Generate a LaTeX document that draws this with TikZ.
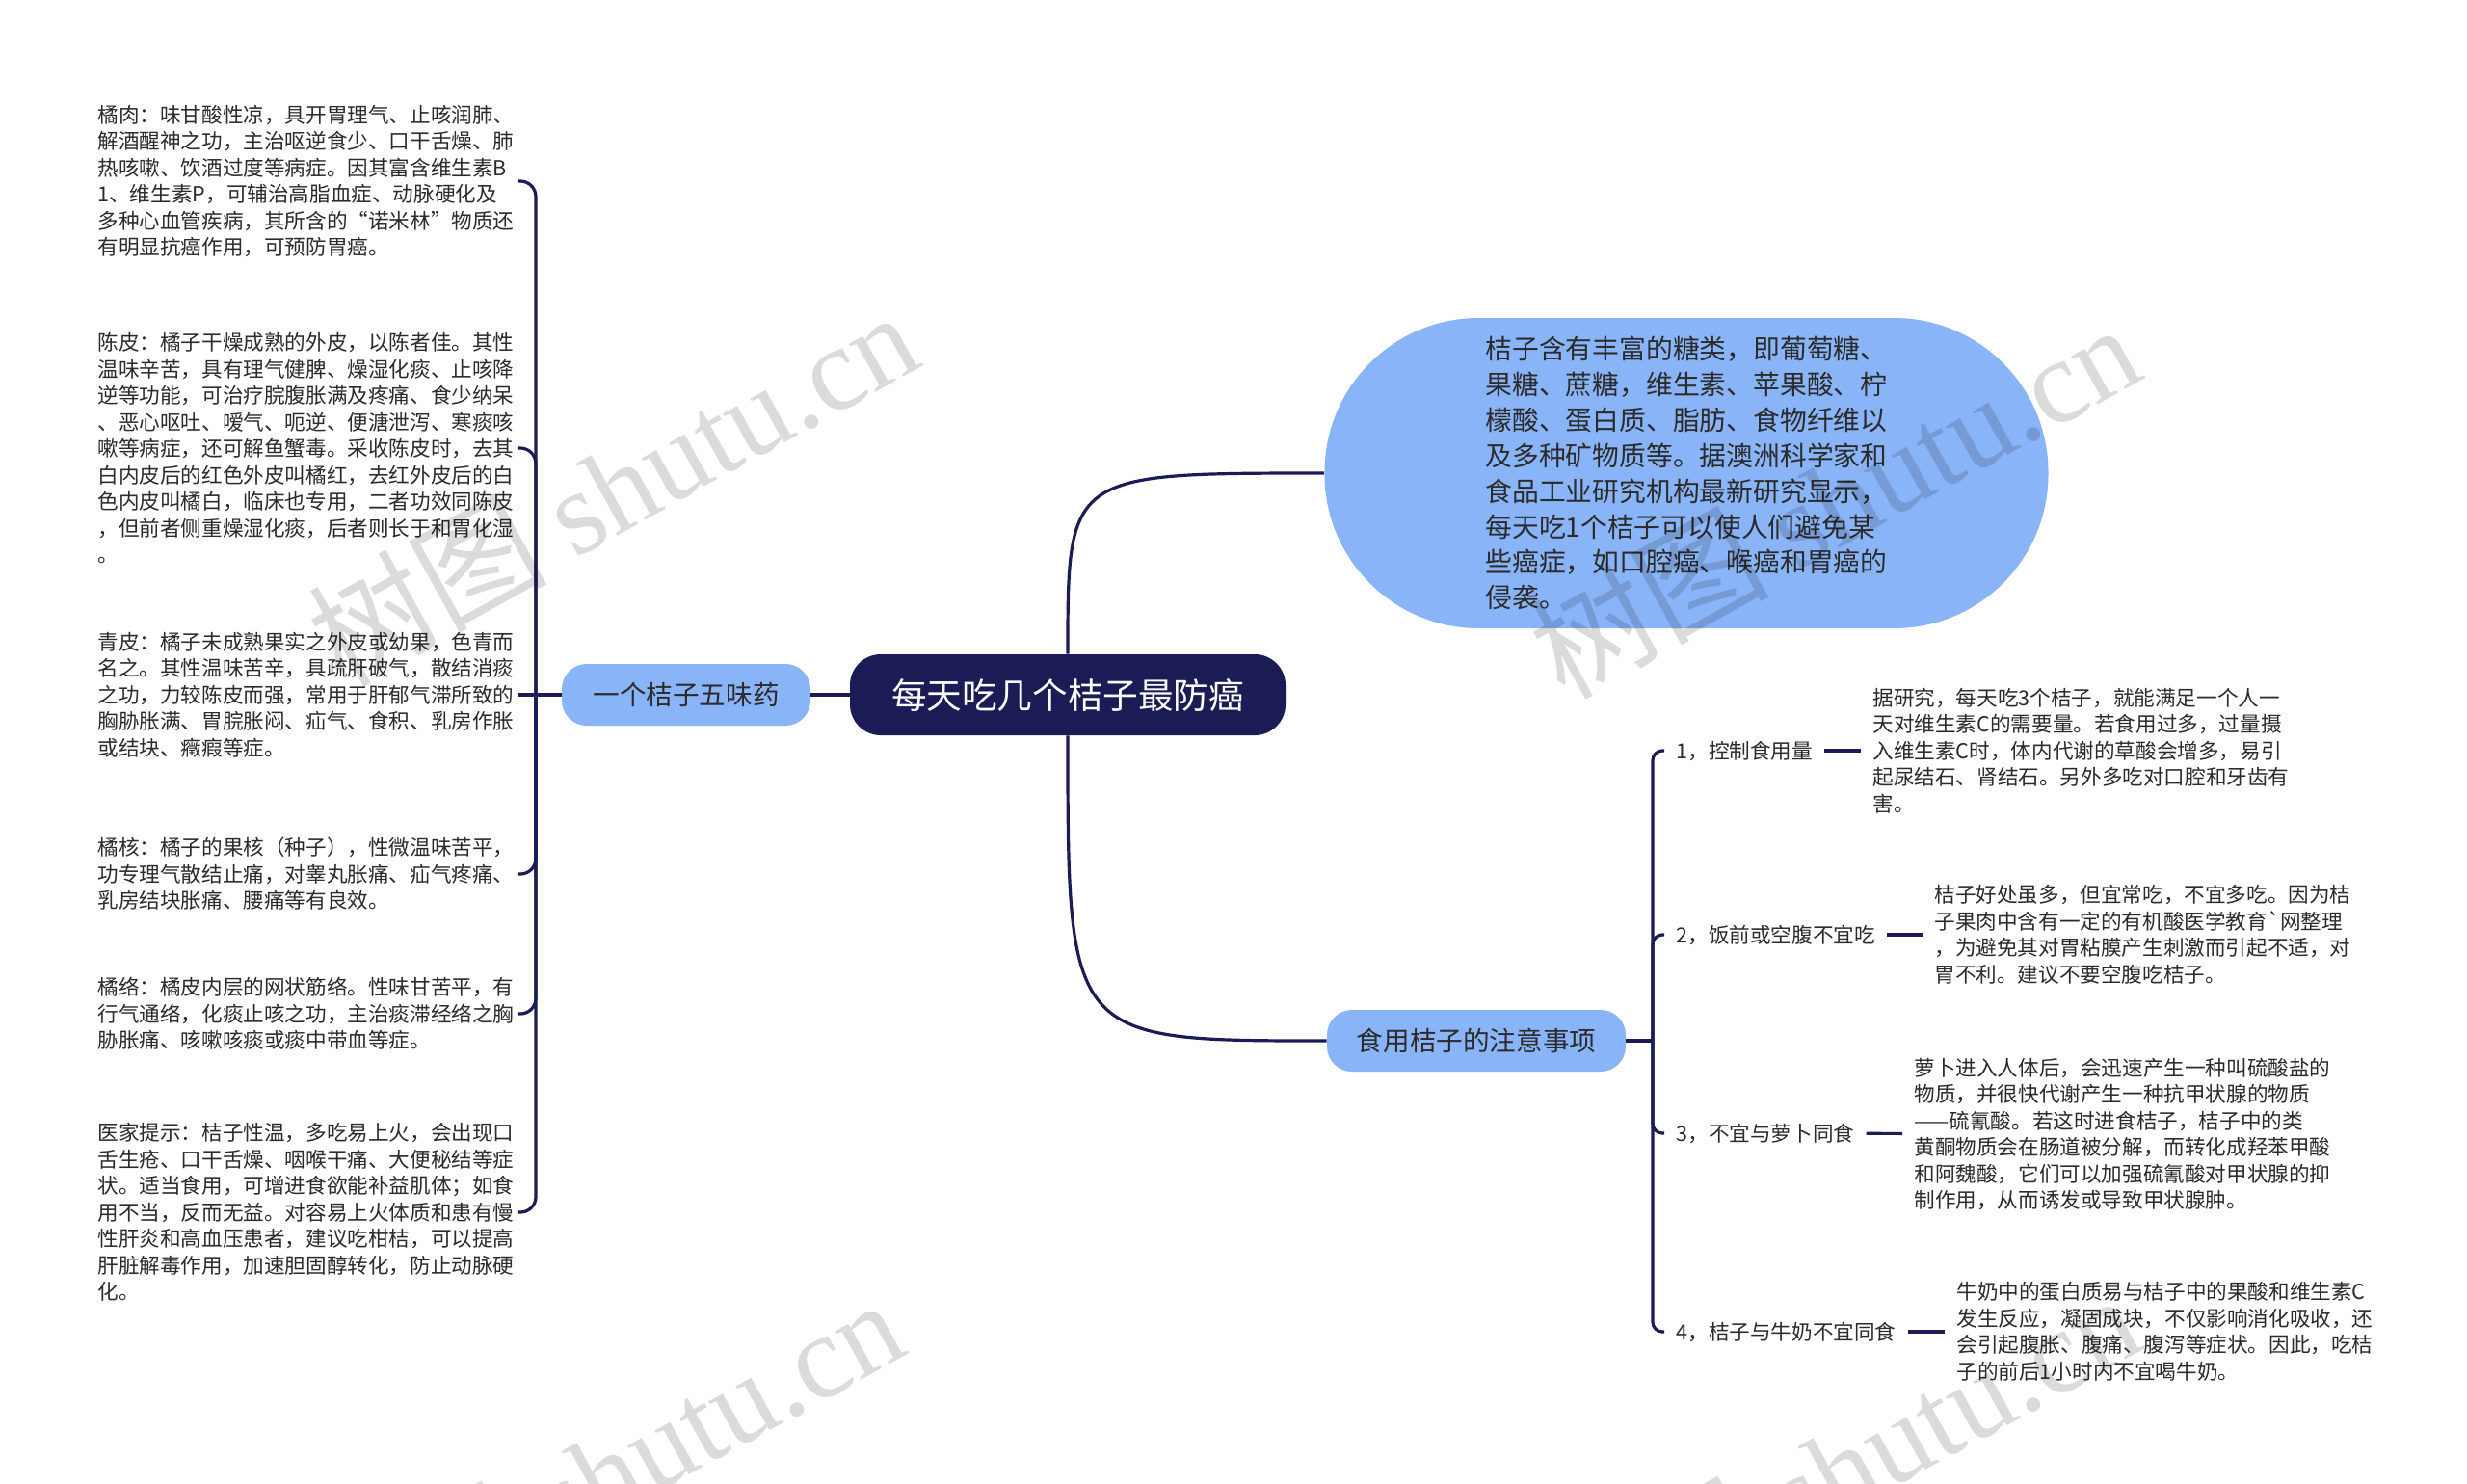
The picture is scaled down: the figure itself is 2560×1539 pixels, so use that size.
\documentclass[tikz,border=0pt]{standalone}
\usepackage{fontspec}
\setmainfont{Noto Sans CJK SC}
\newfontfamily\wmserif{Liberation Serif}
\usepackage{xcolor}
\usepackage{tikz}
\usetikzlibrary{positioning}
\definecolor{navy}{HTML}{1B1B55}
\definecolor{sky}{HTML}{8AB4F8}
\definecolor{ink}{HTML}{2B2B2B}

\begin{document}
\begin{tikzpicture}[
  x=0.5pt, y=-0.5pt,
  font=\fontsize{10.8}{13.75}\selectfont,
  link/.style={draw=navy, line width=1.6pt},
  hub/.style={fill=navy, text=white, rounded corners=16pt, minimum width=226pt, minimum height=42pt, font=\fontsize{18.3}{22}\selectfont},
  branch/.style={fill=sky, text=ink, rounded corners=13pt, minimum height=32pt, font=\fontsize{13.8}{17}\selectfont},
  leaf/.style={text=ink, align=left, inner sep=0pt, text width=218pt, anchor=west},
  tip/.style={text=ink, inner xsep=6pt, inner ysep=0pt, anchor=west},
  detail/.style={text=ink, align=left, inner xsep=6pt, inner ysep=0pt, anchor=west},
  wmark/.style={text=black, text opacity=0.14, rotate=29, font=\fontsize{62}{62}\selectfont}
]
\fill[white] (0,0) rectangle (2560,1539);
\useasboundingbox (0,0) rectangle (2560,1539);

% centre and main branches
\node[hub] (root) at (1108,721) {每天吃几个桔子最防癌};
\node[branch, minimum width=129pt] (five) at (712,721) {一个桔子五味药};
\node[branch, minimum width=155pt] (food) at (1532,1080) {食用桔子的注意事项};
\node[fill=sky, text=ink, rounded corners=80pt, minimum width=375.5pt, minimum height=161pt,
  align=left, font=\fontsize{13.9}{18.45}\selectfont] (facts) at (1750,491)
  {桔子含有丰富的糖类，即葡萄糖、\\果糖、蔗糖，维生素、苹果酸、柠\\檬酸、蛋白质、脂肪、食物纤维以\\及多种矿物质等。据澳洲科学家和\\食品工业研究机构最新研究显示，\\每天吃1个桔子可以使人们避免某\\些癌症，如口腔癌、喉癌和胃癌的\\侵袭。};

\draw[link] (five) -- (root);
\draw[link] (root.north) .. controls (1108,491) .. (facts.west);
\draw[link] (root.south) .. controls (1108,1080) .. (food.west);

% left: five parts of the fruit
\node[leaf] (rou) at (101,188)
  {橘肉：味甘酸性凉，具开胃理气、止咳润肺、\\解酒醒神之功，主治呕逆食少、口干舌燥、肺\\热咳嗽、饮酒过度等病症。因其富含维生素B\\1、维生素P，可辅治高脂血症、动脉硬化及\\多种心血管疾病，其所含的“诺米林”物质还\\有明显抗癌作用，可预防胃癌。};
\node[leaf] (chen) at (101,465)
  {陈皮：橘子干燥成熟的外皮，以陈者佳。其性\\温味辛苦，具有理气健脾、燥湿化痰、止咳降\\逆等功能，可治疗脘腹胀满及疼痛、食少纳呆\\、恶心呕吐、嗳气、呃逆、便溏泄泻、寒痰咳\\嗽等病症，还可解鱼蟹毒。采收陈皮时，去其\\白内皮后的红色外皮叫橘红，去红外皮后的白\\色内皮叫橘白，临床也专用，二者功效同陈皮\\，但前者侧重燥湿化痰，后者则长于和胃化湿\\。};
\node[leaf] (qing) at (101,721)
  {青皮：橘子未成熟果实之外皮或幼果，色青而\\名之。其性温味苦辛，具疏肝破气，散结消痰\\之功，力较陈皮而强，常用于肝郁气滞所致的\\胸胁胀满、胃脘胀闷、疝气、食积、乳房作胀\\或结块、癥瘕等症。};
\node[leaf] (he) at (101,907)
  {橘核：橘子的果核（种子），性微温味苦平，\\功专理气散结止痛，对睾丸胀痛、疝气疼痛、\\乳房结块胀痛、腰痛等有良效。};
\node[leaf] (luo) at (101,1052)
  {橘络：橘皮内层的网状筋络。性味甘苦平，有\\行气通络，化痰止咳之功，主治痰滞经络之胸\\胁胀痛、咳嗽咳痰或痰中带血等症。};
\node[leaf] (yj) at (101,1258)
  {医家提示：桔子性温，多吃易上火，会出现口\\舌生疮、口干舌燥、咽喉干痛、大便秘结等症\\状。适当食用，可增进食欲能补益肌体；如食\\用不当，反而无益。对容易上火体质和患有慢\\性肝炎和高血压患者，建议吃柑桔，可以提高\\肝脏解毒作用，加速胆固醇转化，防止动脉硬\\化。};

\coordinate (lj) at (556,721);
\draw[link] (five.west) -- (lj);
\draw[link] (lj) -- (qing.east);
\foreach \n in {rou,chen,he,luo,yj}
  \draw[link, rounded corners=8pt] (lj) |- (\n.east);

% right: what to watch out for
\node[tip] (t1) at (1727,779) {1，控制食用量};
\node[tip] (t2) at (1727,970) {2，饭前或空腹不宜吃};
\node[tip] (t3) at (1727,1176) {3，不宜与萝卜同食};
\node[tip] (t4) at (1727,1382) {4，桔子与牛奶不宜同食};

\node[detail] (d1) at (1931,779)
  {据研究，每天吃3个桔子，就能满足一个人一\\天对维生素C的需要量。若食用过多，过量摄\\入维生素C时，体内代谢的草酸会增多，易引\\起尿结石、肾结石。另外多吃对口腔和牙齿有\\害。};
\node[detail] (d2) at (1995,970)
  {桔子好处虽多，但宜常吃，不宜多吃。因为桔\\子果肉中含有一定的有机酸医学教育\textasciigrave 网整理\\，为避免其对胃粘膜产生刺激而引起不适，对\\胃不利。建议不要空腹吃桔子。};
\node[detail] (d3) at (1974,1177)
  {萝卜进入人体后，会迅速产生一种叫硫酸盐的\\物质，并很快代谢产生一种抗甲状腺的物质\\——硫氰酸。若这时进食桔子，桔子中的类\\黄酮物质会在肠道被分解，而转化成羟苯甲酸\\和阿魏酸，它们可以加强硫氰酸对甲状腺的抑\\制作用，从而诱发或导致甲状腺肿。};
\node[detail] (d4) at (2018,1382)
  {牛奶中的蛋白质易与桔子中的果酸和维生素C\\发生反应，凝固成块，不仅影响消化吸收，还\\会引起腹胀、腹痛、腹泻等症状。因此，吃桔\\子的前后1小时内不宜喝牛奶。};

\coordinate (rj) at (1715,1080);
\draw[link] (food.east) -- (rj);
\foreach \n in {1,...,4}
  \draw[link, rounded corners=5pt] (rj) |- (t\n.west);
\foreach \n in {1,...,4}
  \draw[link] (t\n) -- (d\n);

% watermarks
\node[wmark] (wm1) at (635,505) {树图 {\wmserif shutu.cn}};
\node[wmark] (wm2) at (1903,518) {树图 {\wmserif shutu.cn}};
\node[wmark] (wm3) at (620,1530) {树图 {\wmserif shutu.cn}};
\node[wmark] (wm4) at (1903,1525) {树图 {\wmserif shutu.cn}};
\end{tikzpicture}
\end{document}
